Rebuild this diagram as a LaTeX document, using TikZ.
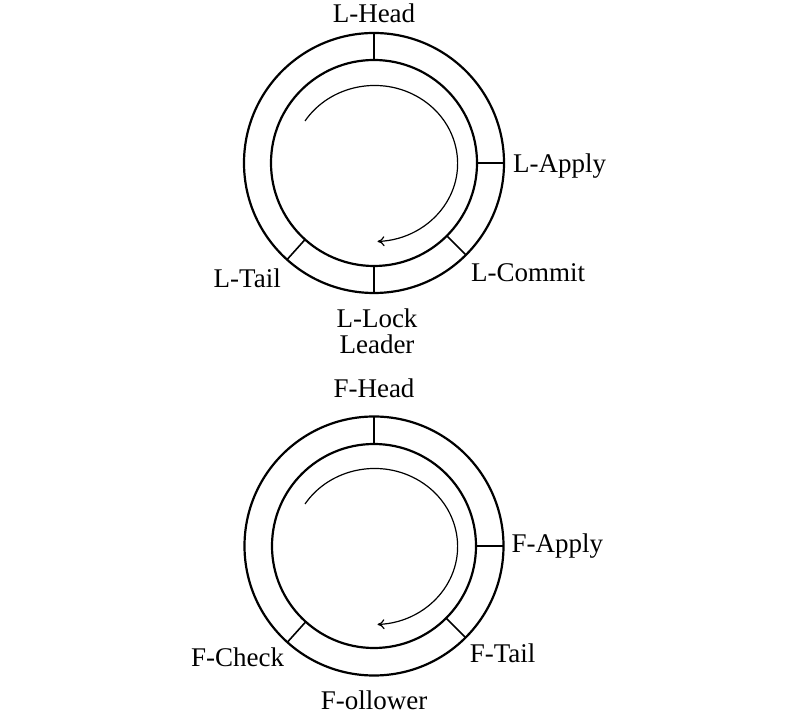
\documentclass[tikz,border=0pt]{standalone}
\usepackage{fontspec}
\setmainfont{Liberation Serif}
\usetikzlibrary{positioning,arrows.meta}

\begin{document}
\begin{tikzpicture}[x=1pt,y=1pt,
    ring/.style={circle,draw,line width=2.2pt,inner sep=0pt,outer sep=0pt},
    tick/.style={line width=1.6pt},
    flow/.style={line width=1.2pt,-{To[length=7pt,width=10pt]}},
    lbl/.style={inner sep=0pt,font=\fontsize{27}{26}\selectfont,align=center}]
  \useasboundingbox (0,0) rectangle (800,717);
  % leader ring
  \node[ring,minimum size=260pt] (l_out) at (374,554) {};
  \node[ring,minimum size=206pt] (l_in) at (374,554) {};
  \foreach \a in {90,0,-45,-90,-132}
    \draw[tick] (l_in.\a) -- (l_out.\a);
  \draw[flow] ([shift={(-69,42)}]l_in.center) arc[start angle=147,end angle=-88,x radius=83pt,y radius=78pt];
  \node[lbl] (l_head) [above=10pt of l_out.north] {L-Head};
  \node[lbl] (l_apply) [right=9pt of l_out.east,yshift=-3pt] {L-Apply};
  \node[lbl] (l_commit) [below right=9pt and 5pt of l_out.-45] {L-Commit};
  \node[lbl] (l_tail) [below left=9pt and 6pt of l_out.-132] {L-Tail};
  \node[lbl] (l_lock) [below=16pt of l_out.south,xshift=3pt] {L-Lock\\Leader};
  % follower ring
  \node[ring,minimum size=259pt] (f_out) at (374,171) {};
  \node[ring,minimum size=204pt] (f_in) at (374,171) {};
  \foreach \a in {90,0,-45,-132}
    \draw[tick] (f_in.\a) -- (f_out.\a);
  \draw[flow] ([shift={(-69,42)}]f_in.center) arc[start angle=147,end angle=-88,x radius=83pt,y radius=78pt];
  \node[lbl] (f_head) [above=19pt of f_out.north] {F-Head};
  \node[lbl] (f_apply) [right=8pt of f_out.east] {F-Apply};
  \node[lbl] (f_tail) [below right=6pt and 4pt of f_out.-45] {F-Tail};
  \node[lbl] (f_check) [below left=5pt and 3pt of f_out.-132] {F-Check};
  \node[lbl] (f_ollower) [below=15pt of f_out.south] {F-ollower};
\end{tikzpicture}
\end{document}
